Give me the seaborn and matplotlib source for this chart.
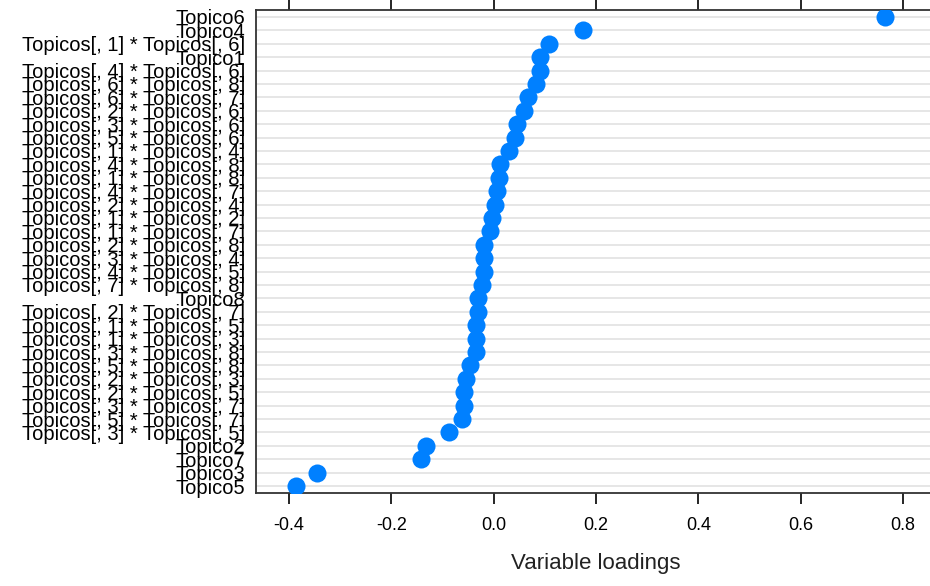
import matplotlib
matplotlib.use("Agg")
import matplotlib.pyplot as plt
import pandas as pd
import seaborn as sns

# Row labels, top to bottom, and their loadings
variables = [
    "Topico6", "Topico4", "Topicos[, 1] * Topicos[, 6]", "Topico1",
    "Topicos[, 4] * Topicos[, 6]", "Topicos[, 6] * Topicos[, 8]",
    "Topicos[, 6] * Topicos[, 7]", "Topicos[, 2] * Topicos[, 6]",
    "Topicos[, 3] * Topicos[, 6]", "Topicos[, 5] * Topicos[, 6]",
    "Topicos[, 1] * Topicos[, 4]", "Topicos[, 4] * Topicos[, 8]",
    "Topicos[, 1] * Topicos[, 8]", "Topicos[, 4] * Topicos[, 7]",
    "Topicos[, 2] * Topicos[, 4]", "Topicos[, 1] * Topicos[, 2]",
    "Topicos[, 1] * Topicos[, 7]", "Topicos[, 2] * Topicos[, 8]",
    "Topicos[, 3] * Topicos[, 4]", "Topicos[, 4] * Topicos[, 5]",
    "Topicos[, 7] * Topicos[, 8]", "Topico8",
    "Topicos[, 2] * Topicos[, 7]", "Topicos[, 1] * Topicos[, 5]",
    "Topicos[, 1] * Topicos[, 3]", "Topicos[, 3] * Topicos[, 8]",
    "Topicos[, 5] * Topicos[, 8]", "Topicos[, 2] * Topicos[, 3]",
    "Topicos[, 2] * Topicos[, 5]", "Topicos[, 3] * Topicos[, 7]",
    "Topicos[, 5] * Topicos[, 7]", "Topicos[, 3] * Topicos[, 5]",
    "Topico2", "Topico7", "Topico3", "Topico5",
]
loadings = [
    0.764, 0.174, 0.108, 0.091, 0.091, 0.083, 0.068, 0.060, 0.045, 0.041,
    0.031, 0.012, 0.011, 0.006, 0.003, -0.003, -0.007, -0.019, -0.018,
    -0.019, -0.023, -0.031, -0.031, -0.035, -0.035, -0.035, -0.046,
    -0.054, -0.057, -0.057, -0.061, -0.087, -0.132, -0.141, -0.344, -0.386,
]
x_ticks = [-0.4, -0.2, 0.0, 0.2, 0.4, 0.6, 0.8]

df = pd.DataFrame({"variable": variables, "loading": loadings})

sns.set_theme(style="white")
plt.rcParams["font.family"] = ["Liberation Sans", "DejaVu Sans"]

fig = plt.figure(figsize=(9.3, 5.86), dpi=100)
ax = fig.add_axes([0.2753, 0.1587, 0.73, 0.8243])

n = len(variables)
for i in range(n):
    ax.axhline(i, color="#e6e6e6", linewidth=1.4, zorder=0)

sns.stripplot(
    data=df, x="loading", y="variable", order=variables,
    jitter=False, color="#0080ff", size=13, linewidth=0, ax=ax, zorder=3,
)

ax.set_xlim(-0.464, 0.862)
ax.set_ylim(n - 0.48, -0.52)
ax.set_xticks(x_ticks)
ax.set_xticklabels([f"{t:.1f}" for t in x_ticks])
ax.set_xlabel("Variable loadings", fontsize=16, labelpad=14, color="#222222")
ax.set_ylabel("")

ax.tick_params(axis="x", which="both", top=True, bottom=True, direction="out",
               length=8, width=1.2, color="black", labelsize=13, pad=9,
               labelcolor="black")
ax.tick_params(axis="y", length=0, labelsize=14.5, pad=8, labelcolor="black")

for side in ["left", "bottom", "top"]:
    ax.spines[side].set_visible(True)
    ax.spines[side].set_color("#333333")
    ax.spines[side].set_linewidth(1.3)
ax.spines["right"].set_visible(False)

fig.savefig("out.png", dpi=100)
